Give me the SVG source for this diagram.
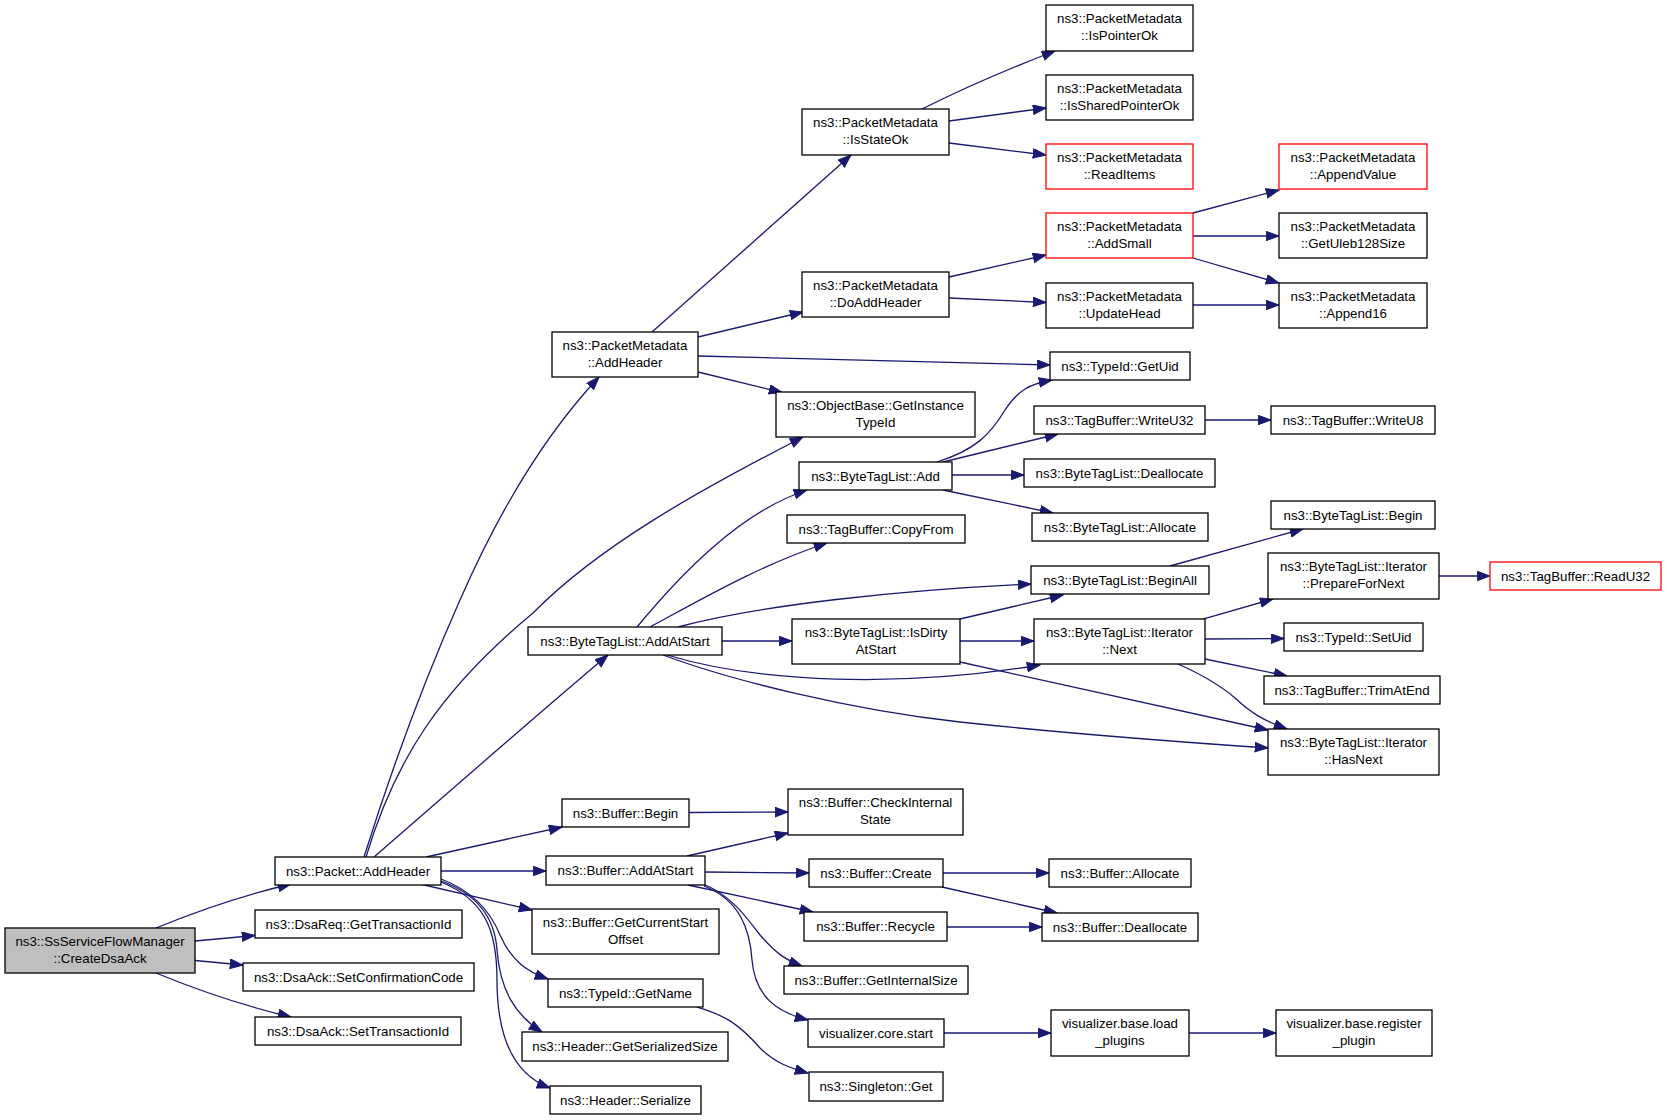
<svg xmlns="http://www.w3.org/2000/svg" width="1667" height="1120" viewBox="0 0 1667 1120">
<style>
.n rect{fill:#fff;stroke:#000;stroke-width:1.3}
.n.red rect{stroke:#ff0000}
.n.main rect{fill:#bfbfbf}
.n text{font-family:"Liberation Sans",Arial,Helvetica,sans-serif;font-size:13.3px;fill:#000;text-anchor:middle}
.e path{fill:none;stroke:#191970;stroke-width:1.3;marker-end:url(#arr)}
</style>
<defs>
<marker id="arr" markerUnits="userSpaceOnUse" markerWidth="15" markerHeight="11" refX="13.3" refY="5" orient="auto">
<path d="M0.5,0.3 L13.3,5 L0.5,9.7 z" fill="#191970" stroke="#191970" stroke-width="1"/>
</marker>
</defs>
<rect width="1667" height="1120" fill="#fff"/>
<g id="connectors" class="e">
<path d="M156,928 C195,912 240,896 291,884"/>
<path d="M195,941 L255,935.5"/>
<path d="M195,960.5 L243,965"/>
<path d="M156,973 C195,989 240,1005 291,1017"/>
<path d="M364,857 C385,790 420,690 460,600 C495,520 540,440 599,377"/>
<path d="M366,857 C395,760 440,690 533,613 C600,545 700,490 803,437"/>
<path d="M374,857 C440,800 540,712 608,655"/>
<path d="M426,857 L562,827"/>
<path d="M441,871 L546,871"/>
<path d="M420,884 L532,910"/>
<path d="M441,879 C470,890 490,910 500,935 C512,962 528,972 548,979"/>
<path d="M441,881 C480,895 495,920 497,950 C500,990 515,1015 542,1032"/>
<path d="M441,882 C485,900 497,930 497,980 C497,1040 515,1075 550,1088"/>
<path d="M652,332 L851,155"/>
<path d="M698,337 L803,312"/>
<path d="M698,356 L1050,365"/>
<path d="M698,372 L782,392.5"/>
<path d="M922,109 C960,90 1000,72 1055,51"/>
<path d="M949,121 L1046,108"/>
<path d="M949,143 L1046,155"/>
<path d="M949,277 L1046,255"/>
<path d="M949,298 L1046,302.5"/>
<path d="M1193,213 L1279,190"/>
<path d="M1193,236 L1279,236"/>
<path d="M1193,258 L1279,283"/>
<path d="M1193,305 L1279,305"/>
<path d="M937,462 C975,450 990,435 1005,410 C1018,390 1030,384 1052,380"/>
<path d="M943,462 L1058,434"/>
<path d="M952,475 L1024,475"/>
<path d="M943,490 L1053,513"/>
<path d="M1205,420 L1271,420"/>
<path d="M637,627 C680,575 740,512 807,490"/>
<path d="M650,627 C700,600 760,565 827,543"/>
<path d="M678,627 C760,605 900,590 1031,584"/>
<path d="M722,641 L792,641"/>
<path d="M667,655 C760,683 900,688 1040,665"/>
<path d="M663,655 C730,680 850,710 960,722 C1080,735 1180,742 1268,748"/>
<path d="M960,619 L1063,595"/>
<path d="M960,641 L1034,641"/>
<path d="M960,662 L1268,730"/>
<path d="M1170,566 L1303,529"/>
<path d="M1203,619 L1273,599"/>
<path d="M1205,639 L1284,638.5"/>
<path d="M1205,659 L1287,676"/>
<path d="M1178,664 C1205,676 1220,685 1235,698 C1250,712 1262,720 1287,729"/>
<path d="M1439,576 L1490,576"/>
<path d="M689,812.5 L788,812"/>
<path d="M687,856 L788,833"/>
<path d="M705,872 L809,873"/>
<path d="M688,885 L813,912"/>
<path d="M703,884 C730,895 745,915 760,935 C775,952 785,960 802,966"/>
<path d="M704,886 C740,900 750,930 752,960 C755,995 775,1012 808,1020"/>
<path d="M943,873 L1049,873"/>
<path d="M942,887 L1057,913"/>
<path d="M947,927 L1042,927"/>
<path d="M944,1033 L1051,1033"/>
<path d="M1189,1033 L1276,1033"/>
<path d="M697,1007 C725,1015 740,1025 760,1048 C775,1063 790,1068 808,1073"/>
</g>
<g id="n_main" class="n main"><rect x="5" y="928" width="190" height="45"/><text x="100" y="945.5">ns3::SsServiceFlowManager</text><text x="100" y="963">::CreateDsaAck</text></g>
<g id="n_pk_addheader" class="n"><rect x="275" y="857" width="166" height="28"/><text x="358" y="875.5">ns3::Packet::AddHeader</text></g>
<g id="n_dsareq" class="n"><rect x="255" y="910" width="207" height="28"/><text x="358.5" y="928.5">ns3::DsaReq::GetTransactionId</text></g>
<g id="n_setconf" class="n"><rect x="243" y="963" width="231" height="28"/><text x="358.5" y="981.5">ns3::DsaAck::SetConfirmationCode</text></g>
<g id="n_settrans" class="n"><rect x="255" y="1017" width="206" height="28"/><text x="358" y="1035.5">ns3::DsaAck::SetTransactionId</text></g>
<g id="n_pm_addheader" class="n"><rect x="552" y="332" width="146" height="45"/><text x="625" y="349.5">ns3::PacketMetadata</text><text x="625" y="367">::AddHeader</text></g>
<g id="n_isstateok" class="n"><rect x="802" y="109" width="147" height="46"/><text x="875.5" y="126.5">ns3::PacketMetadata</text><text x="875.5" y="144">::IsStateOk</text></g>
<g id="n_doaddheader" class="n"><rect x="802" y="272" width="147" height="45"/><text x="875.5" y="289.5">ns3::PacketMetadata</text><text x="875.5" y="307">::DoAddHeader</text></g>
<g id="n_objbase" class="n"><rect x="776" y="392" width="199" height="45"/><text x="875.5" y="409.5">ns3::ObjectBase::GetInstance</text><text x="875.5" y="427">TypeId</text></g>
<g id="n_btl_addatstart" class="n"><rect x="528" y="627" width="194" height="28"/><text x="625" y="645.5">ns3::ByteTagList::AddAtStart</text></g>
<g id="n_btl_add" class="n"><rect x="799" y="462" width="153" height="28"/><text x="875.5" y="480.5">ns3::ByteTagList::Add</text></g>
<g id="n_copyfrom" class="n"><rect x="787" y="515" width="178" height="28"/><text x="876" y="533.5">ns3::TagBuffer::CopyFrom</text></g>
<g id="n_isdirty" class="n"><rect x="792" y="619" width="168" height="45"/><text x="876" y="636.5">ns3::ByteTagList::IsDirty</text><text x="876" y="654">AtStart</text></g>
<g id="n_ispointerok" class="n"><rect x="1046" y="5" width="147" height="46"/><text x="1119.5" y="22.5">ns3::PacketMetadata</text><text x="1119.5" y="40">::IsPointerOk</text></g>
<g id="n_issharedptr" class="n"><rect x="1046" y="75" width="147" height="45"/><text x="1119.5" y="92.5">ns3::PacketMetadata</text><text x="1119.5" y="110">::IsSharedPointerOk</text></g>
<g id="n_readitems" class="n red"><rect x="1046" y="144" width="147" height="45"/><text x="1119.5" y="161.5">ns3::PacketMetadata</text><text x="1119.5" y="179">::ReadItems</text></g>
<g id="n_addsmall" class="n red"><rect x="1046" y="213" width="147" height="45"/><text x="1119.5" y="230.5">ns3::PacketMetadata</text><text x="1119.5" y="248">::AddSmall</text></g>
<g id="n_updatehead" class="n"><rect x="1046" y="283" width="147" height="45"/><text x="1119.5" y="300.5">ns3::PacketMetadata</text><text x="1119.5" y="318">::UpdateHead</text></g>
<g id="n_getuid" class="n"><rect x="1050" y="352" width="140" height="28"/><text x="1120" y="370.5">ns3::TypeId::GetUid</text></g>
<g id="n_appendvalue" class="n red"><rect x="1279" y="144" width="148" height="45"/><text x="1353" y="161.5">ns3::PacketMetadata</text><text x="1353" y="179">::AppendValue</text></g>
<g id="n_getuleb" class="n"><rect x="1279" y="213" width="148" height="45"/><text x="1353" y="230.5">ns3::PacketMetadata</text><text x="1353" y="248">::GetUleb128Size</text></g>
<g id="n_append16" class="n"><rect x="1279" y="283" width="148" height="45"/><text x="1353" y="300.5">ns3::PacketMetadata</text><text x="1353" y="318">::Append16</text></g>
<g id="n_writeu32" class="n"><rect x="1034" y="406" width="171" height="28"/><text x="1119.5" y="424.5">ns3::TagBuffer::WriteU32</text></g>
<g id="n_writeu8" class="n"><rect x="1271" y="406" width="164" height="28"/><text x="1353" y="424.5">ns3::TagBuffer::WriteU8</text></g>
<g id="n_btl_dealloc" class="n"><rect x="1024" y="459" width="191" height="28"/><text x="1119.5" y="477.5">ns3::ByteTagList::Deallocate</text></g>
<g id="n_btl_alloc" class="n"><rect x="1032" y="513" width="176" height="28"/><text x="1120" y="531.5">ns3::ByteTagList::Allocate</text></g>
<g id="n_btl_begin" class="n"><rect x="1271" y="501" width="164" height="28"/><text x="1353" y="519.5">ns3::ByteTagList::Begin</text></g>
<g id="n_beginall" class="n"><rect x="1031" y="566" width="178" height="28"/><text x="1120" y="584.5">ns3::ByteTagList::BeginAll</text></g>
<g id="n_preparefornext" class="n"><rect x="1268" y="553" width="171" height="46"/><text x="1353.5" y="570.5">ns3::ByteTagList::Iterator</text><text x="1353.5" y="588">::PrepareForNext</text></g>
<g id="n_next" class="n"><rect x="1034" y="619" width="171" height="45"/><text x="1119.5" y="636.5">ns3::ByteTagList::Iterator</text><text x="1119.5" y="654">::Next</text></g>
<g id="n_setuid" class="n"><rect x="1284" y="623" width="139" height="28"/><text x="1353.5" y="641.5">ns3::TypeId::SetUid</text></g>
<g id="n_trimatend" class="n"><rect x="1264" y="676" width="176" height="28"/><text x="1352" y="694.5">ns3::TagBuffer::TrimAtEnd</text></g>
<g id="n_hasnext" class="n"><rect x="1268" y="729" width="171" height="46"/><text x="1353.5" y="746.5">ns3::ByteTagList::Iterator</text><text x="1353.5" y="764">::HasNext</text></g>
<g id="n_readu32" class="n red"><rect x="1490" y="562" width="171" height="28"/><text x="1575.5" y="580.5">ns3::TagBuffer::ReadU32</text></g>
<g id="n_buf_begin" class="n"><rect x="562" y="799" width="127" height="28"/><text x="625.5" y="817.5">ns3::Buffer::Begin</text></g>
<g id="n_checkinternal" class="n"><rect x="788" y="789" width="175" height="46"/><text x="875.5" y="806.5">ns3::Buffer::CheckInternal</text><text x="875.5" y="824">State</text></g>
<g id="n_buf_addatstart" class="n"><rect x="546" y="856" width="159" height="29"/><text x="625.5" y="875">ns3::Buffer::AddAtStart</text></g>
<g id="n_buf_create" class="n"><rect x="809" y="859" width="134" height="28"/><text x="876" y="877.5">ns3::Buffer::Create</text></g>
<g id="n_getcurstart" class="n"><rect x="532" y="909" width="187" height="45"/><text x="625.5" y="926.5">ns3::Buffer::GetCurrentStart</text><text x="625.5" y="944">Offset</text></g>
<g id="n_recycle" class="n"><rect x="804" y="912" width="143" height="29"/><text x="875.5" y="931">ns3::Buffer::Recycle</text></g>
<g id="n_getname" class="n"><rect x="548" y="979" width="155" height="28"/><text x="625.5" y="997.5">ns3::TypeId::GetName</text></g>
<g id="n_getinternalsize" class="n"><rect x="784" y="966" width="184" height="28"/><text x="876" y="984.5">ns3::Buffer::GetInternalSize</text></g>
<g id="n_getserialized" class="n"><rect x="522" y="1032" width="206" height="29"/><text x="625" y="1051">ns3::Header::GetSerializedSize</text></g>
<g id="n_vcorestart" class="n"><rect x="808" y="1019" width="136" height="28"/><text x="876" y="1037.5">visualizer.core.start</text></g>
<g id="n_serialize" class="n"><rect x="550" y="1086" width="151" height="28"/><text x="625.5" y="1104.5">ns3::Header::Serialize</text></g>
<g id="n_singleton" class="n"><rect x="809" y="1072" width="134" height="29"/><text x="876" y="1091">ns3::Singleton::Get</text></g>
<g id="n_buf_alloc" class="n"><rect x="1049" y="859" width="142" height="28"/><text x="1120" y="877.5">ns3::Buffer::Allocate</text></g>
<g id="n_buf_dealloc" class="n"><rect x="1042" y="913" width="156" height="28"/><text x="1120" y="931.5">ns3::Buffer::Deallocate</text></g>
<g id="n_loadplugins" class="n"><rect x="1051" y="1010" width="138" height="46"/><text x="1120" y="1027.5">visualizer.base.load</text><text x="1120" y="1045">_plugins</text></g>
<g id="n_registerplugin" class="n"><rect x="1276" y="1010" width="156" height="46"/><text x="1354" y="1027.5">visualizer.base.register</text><text x="1354" y="1045">_plugin</text></g>
</svg>
